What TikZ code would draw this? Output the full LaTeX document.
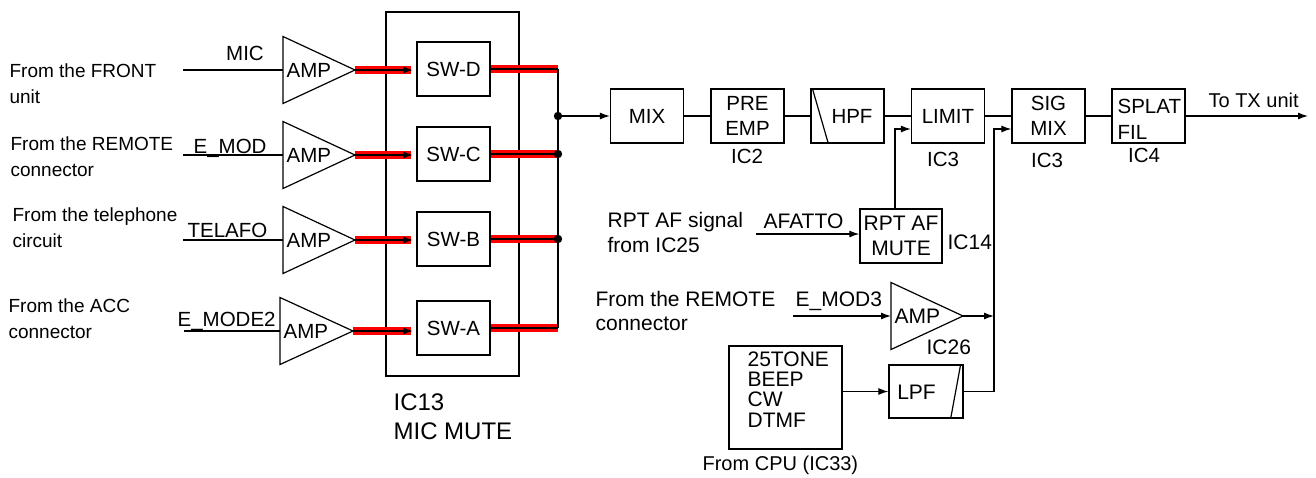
\documentclass[tikz,border=0pt]{standalone}
\usepackage{fontspec}
\setmainfont{Liberation Sans}
\usetikzlibrary{arrows.meta,calc}
\newcommand\myfs[2]{\fontsize{#1}{#2}\selectfont}
\newcommand\myamp[5]{%
  \coordinate (#1w) at (#2,#3);
  \coordinate (#1e) at ({#2+#4},#3);
  \draw[line join=miter] (#2,{#3-33.5}) -- (#1e) -- (#2,{#3+33.5}) -- cycle;
  \node[anchor=base west, inner sep=0pt, font=\myfs{#5}{#5}] (#1t) at ({#2+3},{#3+7}) {AMP};
}
\begin{document}
\begin{tikzpicture}[x=1pt,y=-1pt,line width=1.2pt,
  box/.style={draw, line width=1.3pt, inner sep=0pt, minimum width=73pt, minimum height=54pt, font=\myfs{20.5}{25}, align=center},
  txt/.style={inner sep=0pt, anchor=base west, align=left},
  arr/.style={-{Latex[length=10pt,width=7pt]}},
  redbg/.style={draw=red, line width=8pt},
  sig/.style={line width=1.8pt}]
\fill[white] (0,0) rectangle (1316,477);
\useasboundingbox (0,0) rectangle (1316,477);

% left labels (base anchor = last line)
\node[txt, font=\myfs{19}{26}] (lfront) at (9,103) {From the FRONT\\unit};
\node[txt, font=\myfs{19}{26}] (lremote) at (10,176) {From the REMOTE\\connector};
\node[txt, font=\myfs{19}{26}] (ltel) at (12,247) {From the telephone\\circuit};
\node[txt, font=\myfs{19}{26}] (lacc) at (8,338) {From the ACC\\connector};

% inputs and amps
\coordinate (i1) at (183,70);
\coordinate (i2) at (183,155);
\coordinate (i3) at (183,240);
\coordinate (i4) at (184,331);
\myamp{aa}{283}{70}{72}{20.5}
\myamp{ab}{283}{155}{72}{20.5}
\myamp{ac}{283}{240}{72}{20.5}
\myamp{ad}{280}{331}{73}{20.5}
\draw (i1) -- (aaw);
\draw (i2) -- (abw);
\draw (i3) -- (acw);
\draw (i4) -- (adw);
\node[txt, anchor=base, font=\myfs{20.5}{24}] (lmic) at (245,60) {MIC};
\node[txt, font=\myfs{20.5}{24}] (lemod) at (193,153) {E\_MOD};
\node[txt, font=\myfs{20.5}{24}] (ltelafo) at (187,237) {TELAFO};
\node[txt, font=\myfs{20.5}{24}] (lemodb) at (177,326) {E\_MODE2};

% IC13 block
\node[draw, line width=1.3pt, minimum width=133pt, minimum height=364pt, inner sep=0pt] (ic13) at (452.5,194) {};
\node[box] (swd) at (453.5,69) {SW-D};
\node[box] (swc) at (453.5,154) {SW-C};
\node[box] (swb) at (453.5,239) {SW-B};
\node[box] (swa) at (453.5,328) {SW-A};
\node[txt, font=\myfs{24}{29}] (lic13) at (393,439) {IC13\\MIC MUTE};

\foreach \ampn/\swn in {aa/swd, ab/swc, ac/swb, ad/swa}{
  \draw[redbg] (\ampn e) -- ($(\ampn e -| \swn.west)+(-5,0)$);
  \draw[sig, arr] (\ampn e) -- ($(\ampn e -| \swn.west)+(-3,0)$);
}
\coordinate (bt) at (558,70);
\coordinate (jm) at (558,116);
\foreach \swn in {swd,swc,swb,swa}{
  \draw[redbg] (\swn.east) -- (\swn.east -| bt);
}
\foreach \swn in {swd,swc,swb,swa}{
  \draw[sig] (\swn.east) -- (\swn.east -| bt);
}
\draw (swd.east -| bt) -- (swa.east -| bt);
\fill (jm) circle (4.2);
\fill (swc.east -| bt) circle (4.2);
\fill (swb.east -| bt) circle (4.2);

% main chain
\node[box] (mix) at (647,116) {MIX};
\node[box] (pre) at (747.5,116) {PRE\\EMP};
\node[box] (hpf) at (847.5,116) {};
\node[txt, anchor=center, font=\myfs{20.5}{25}] (hpft) at (852,116) {HPF};
\draw ($(hpf.north west)+(2,0)$) -- ($(hpf.south west)+(18,0)$);
\node[box] (limit) at (948,116) {LIMIT};
\node[box] (sigm) at (1048.5,116) {SIG\\MIX};
\node[box] (splat) at (1148.5,116) {};
\node[txt, font=\myfs{20.5}{26}] (splatt) at (1117,139) {SPLAT\\FIL};
\coordinate (tx) at (1308,116);
\draw[arr] (jm) -- (mix.west);
\draw (mix.east) -- (pre.west);
\draw (pre.east) -- (hpf.west);
\draw (hpf.east) -- (limit.west);
\draw (limit.east) -- (sigm.west);
\draw (sigm.east) -- (splat.west);
\draw[arr] (splat.east) -- (tx);
\node[txt, font=\myfs{20}{24}] (ltx) at (1208,107) {To TX unit};
\node[txt, anchor=base, font=\myfs{20.5}{24}] (ic2) at (747,163) {IC2};
\node[txt, anchor=base, font=\myfs{20.5}{24}] (ic3a) at (943,166) {IC3};
\node[txt, anchor=base, font=\myfs{20.5}{24}] (ic3b) at (1047,167) {IC3};
\node[txt, anchor=base, font=\myfs{20.5}{24}] (ic4) at (1144,162) {IC4};

% RPT AF mute
\node[box, minimum width=82pt, font=\myfs{21}{25}] (rpt) at (901,236) {RPT AF\\MUTE};
\node[txt, font=\myfs{21}{24}] (ic14) at (947,249) {IC14};
\coordinate (afin) at (756,234);
\draw[arr] (afin) -- (afin -| rpt.west);
\node[txt, font=\myfs{21}{24}] (lafatto) at (763,228) {AFATTO};
\node[txt, font=\myfs{21}{25}] (lrpt) at (607,252) {RPT AF signal\\from IC25};
\draw[arr] ($(rpt.north)+(-6,0)$) |- ($(limit.west)+(0,13)$);

% remote amp
\myamp{az}{891}{316}{72}{21}
\coordinate (em3) at (793,316);
\draw[arr] (em3) -- (azw);
\node[txt, font=\myfs{21}{24}] (lem3) at (795,306) {E\_MOD3};
\node[txt, font=\myfs{21}{24}] (lrem2) at (595,330) {From the REMOTE\\connector};
\node[txt, font=\myfs{21}{24}] (ic26) at (926,354) {IC26};

% LPF and CPU
\node[box, minimum width=74pt, minimum height=53pt] (lpf) at (926,391.5) {};
\node[txt, anchor=center, font=\myfs{21}{24}] (lpft) at (916.5,392) {LPF};
\draw ($(lpf.north east)+(-3,0)$) -- ($(lpf.south east)+(-13,0)$);
\node[draw, line width=1.3pt, inner sep=0pt, minimum width=113pt, minimum height=103pt] (cpu) at (785.5,397.5) {};
\node[txt, font=\myfs{21}{20.3}] (cput) at (747,427) {25TONE\\BEEP\\CW\\DTMF};
\draw[arr] (cpu.east |- lpf.west) -- (lpf.west);
\node[txt, font=\myfs{20}{24}] (lcpu) at (702,470) {From CPU (IC33)};

\coordinate (sc) at (994,129);
\draw[arr] (lpf.east) -| (sc) -- ($(sigm.west)+(0,13)$);
\draw[arr] (aze) -- (aze -| sc);
\end{tikzpicture}
\end{document}
